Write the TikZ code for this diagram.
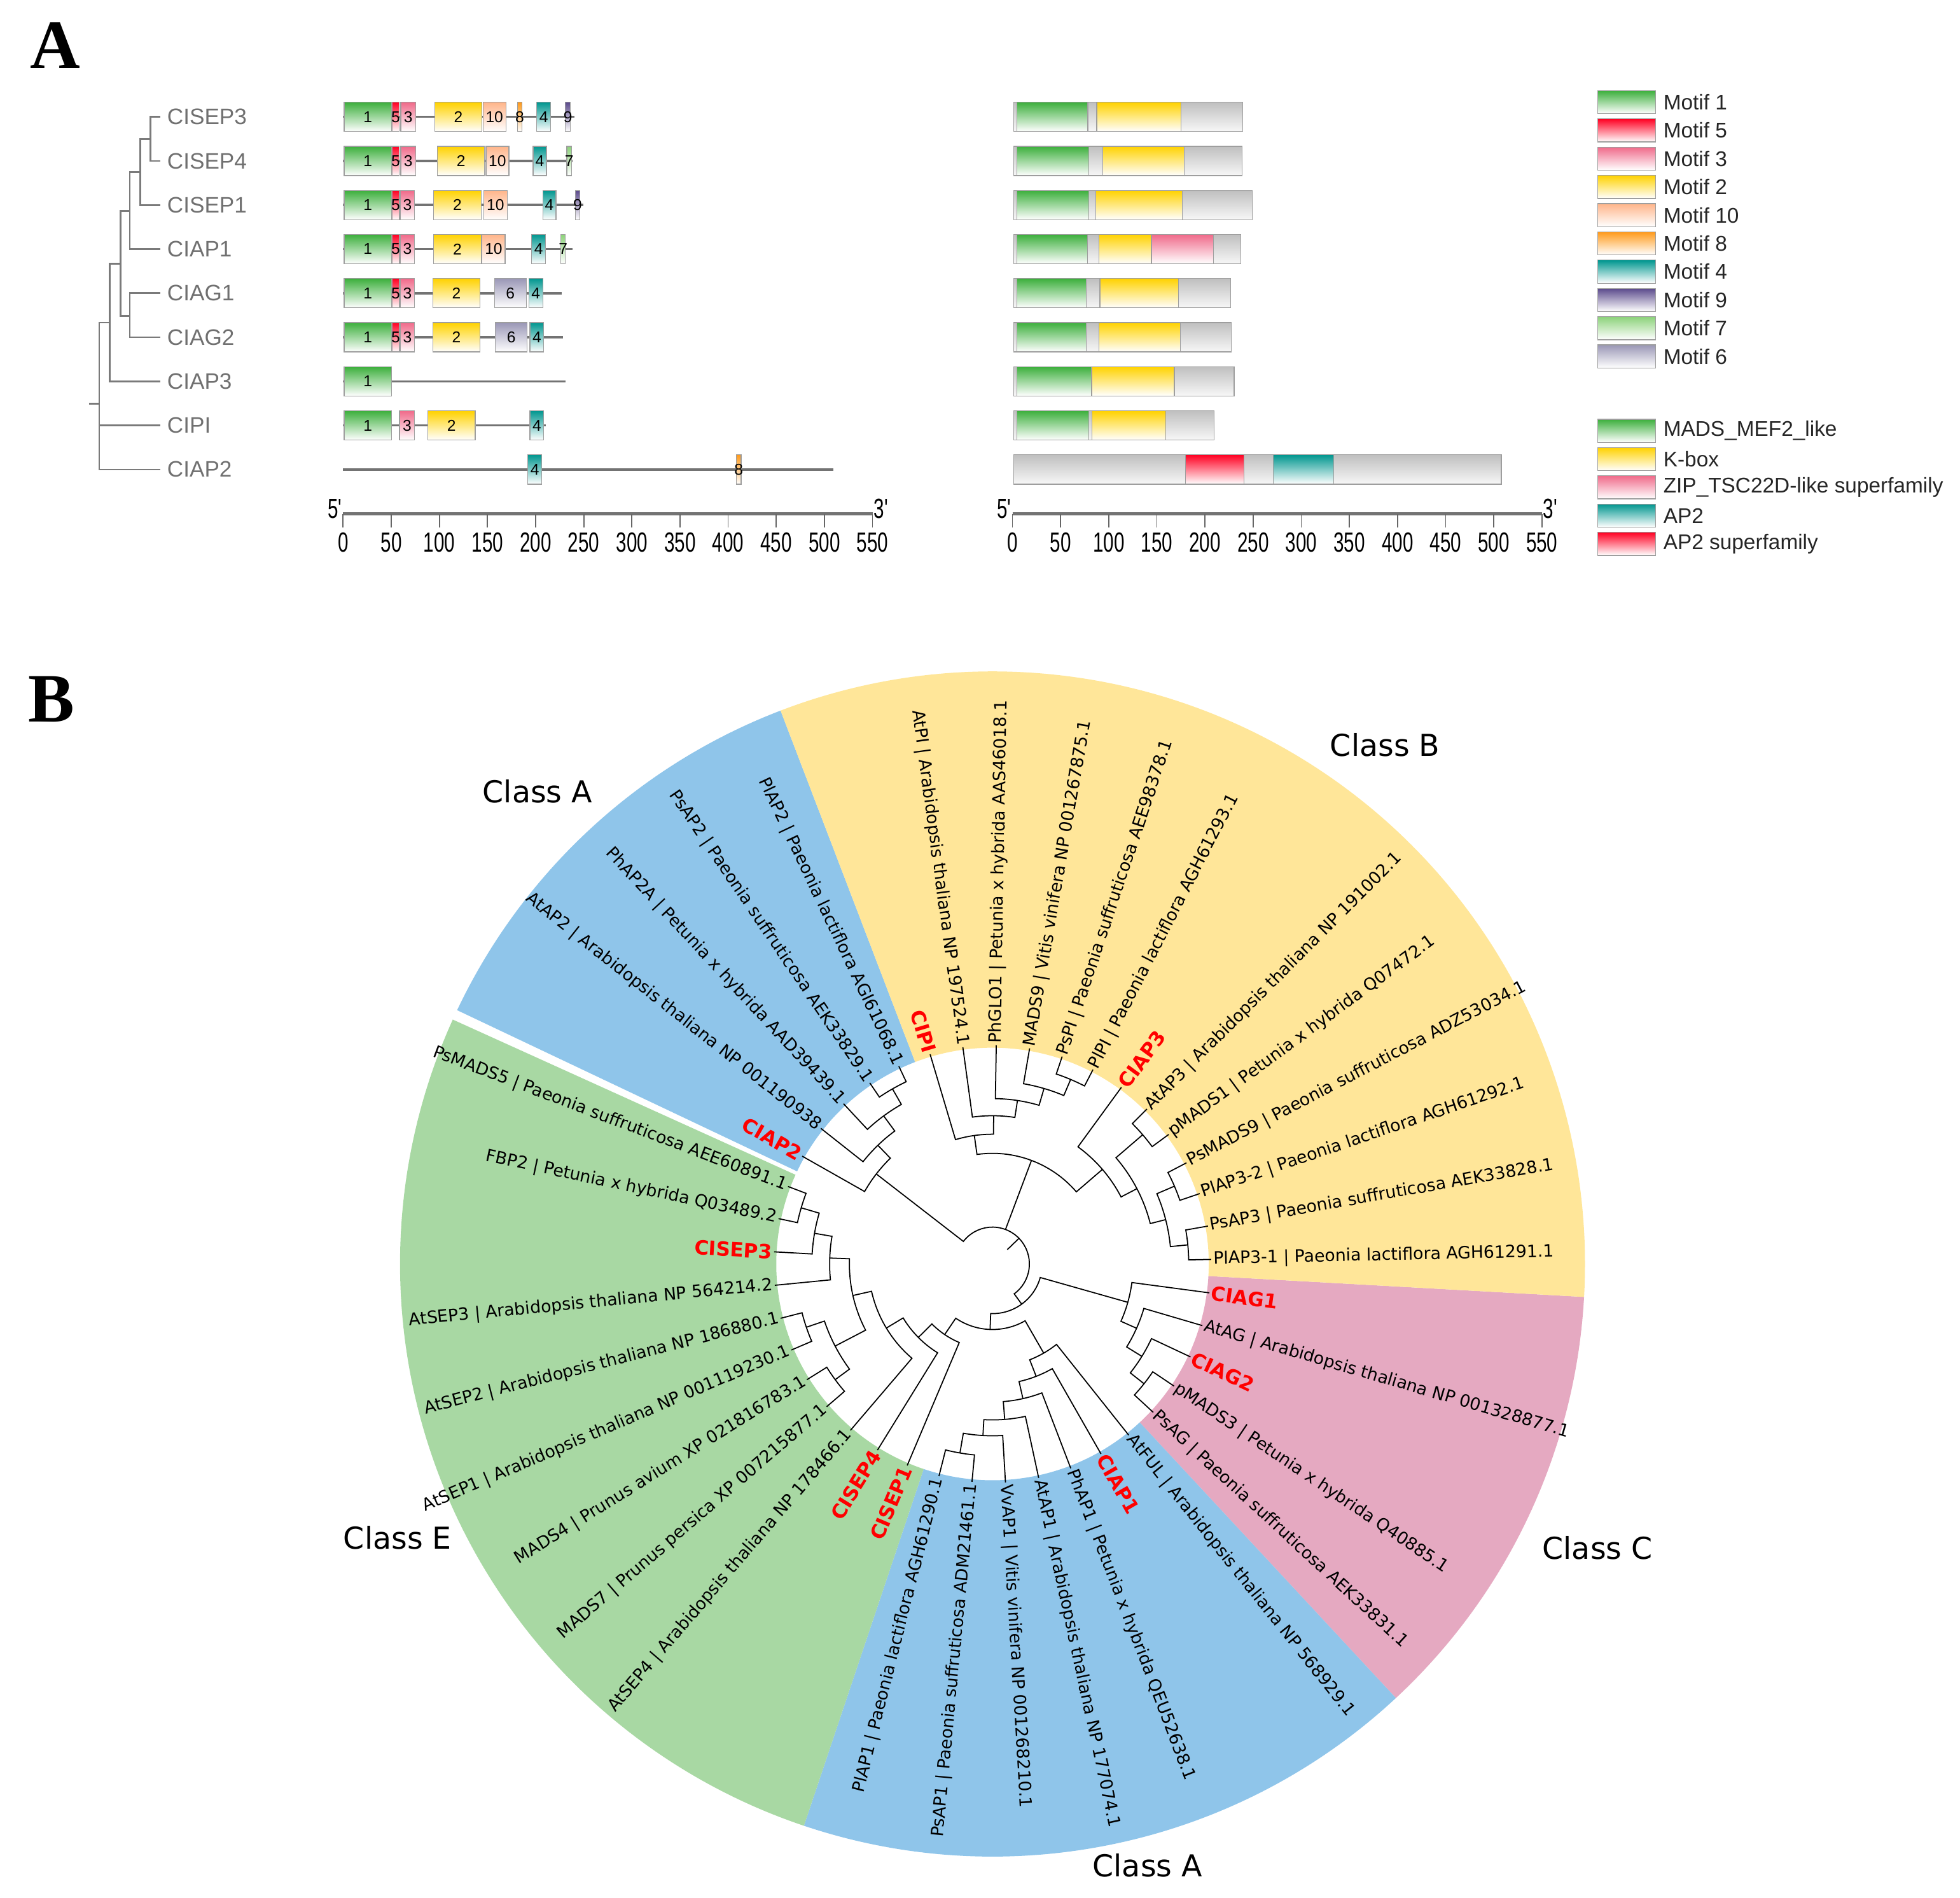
\documentclass[tikz,border=0pt]{standalone}
\usepackage{fontspec}
\setmainfont{Liberation Sans}
\newfontfamily\dvs{DejaVu Sans}
\newfontfamily\lser{Liberation Serif}
\newfontfamily\narrow[FakeStretch=0.68]{Liberation Sans}
\usetikzlibrary{positioning}

\definecolor{mOne}{HTML}{3CAF3C}
\definecolor{mFive}{HTML}{FF0022}
\definecolor{mThree}{HTML}{F06A8A}
\definecolor{mTwo}{HTML}{FFD200}
\definecolor{mTen}{HTML}{FFB58A}
\definecolor{mEight}{HTML}{FF9A1A}
\definecolor{mFour}{HTML}{00968F}
\definecolor{mNine}{HTML}{5B4A8C}
\definecolor{mSeven}{HTML}{8CD27A}
\definecolor{mSix}{HTML}{9A97B6}
\definecolor{clsA}{HTML}{8FC5EA}
\definecolor{clsB}{HTML}{FFE699}
\definecolor{clsC}{HTML}{E5A9C1}
\definecolor{clsE}{HTML}{A8D8A3}

% annular sector of the circular tree
\newcommand{\ringsector}[3]{\fill[#1] (#2:173) arc[start angle=#2, end angle=#3, radius=173]
  -- (#3:474) arc[start angle=#3, end angle=#2, radius=474] -- cycle;}

\begin{document}
\begin{tikzpicture}[x=0.19649mm, y=0.19649mm,
    every node/.style={inner sep=0pt},
    panel/.style={font=\lser\bfseries\fontsize{31}{31}\selectfont},
    gname/.style={font=\fontsize{10}{12}\selectfont, text=black!56, anchor=west, inner sep=3pt},
    ptree/.style={draw=black!52, line width=0.75pt},
    pline/.style={draw=black!55, line width=1pt},
    box/.style={draw=black!38, line width=0.35pt},
    mot1/.style={box, top color=mOne, bottom color=white},
    mot2/.style={box, top color=mTwo, bottom color=white},
    mot3/.style={box, top color=mThree, bottom color=white},
    mot4/.style={box, top color=mFour, bottom color=white},
    mot5/.style={box, top color=mFive, bottom color=white},
    mot6/.style={box, top color=mSix, bottom color=white},
    mot7/.style={box, top color=mSeven, bottom color=white},
    mot8/.style={box, top color=mEight, bottom color=white},
    mot9/.style={box, top color=mNine, bottom color=white},
    mot10/.style={box, top color=mTen, bottom color=white},
    dom/.style={box, top color=black!25, bottom color=black!3},
    numtxt/.style={font=\fontsize{7}{7}\selectfont},
    axnum/.style={font=\narrow\fontsize{12.4}{12.4}\selectfont},
    swatch/.style={minimum width=9.1mm, minimum height=3.63mm},
    leg/.style={font=\fontsize{9.5}{11}\selectfont, text=black!85},
    btree/.style={draw=black, line width=0.5pt},
    lbl0/.style={font=\dvs\fontsize{7.6}{8}\selectfont, inner sep=0.5pt},
    lbl1/.style={font=\dvs\bfseries\fontsize{8.8}{9}\selectfont, text=red, inner sep=0.5pt},
    anc0/.style={anchor=west}, anc1/.style={anchor=east},
    clab/.style={font=\dvs\fontsize{13.5}{15}\selectfont}]

\useasboundingbox (0,0) rectangle (1568,-1518);

%%% Panel A
\node[panel] (pA) at (44,-36.5) {A};

% gene tree
\foreach \gn [count=\row from 0] in {CISEP3,CISEP4,CISEP1,CIAP1,CIAG1,CIAG2,CIAP3,CIPI,CIAP2}
  \node[gname] (g\row) at (128.1,{-93.5-35.25*\row}) {\gn};

\coordinate (n6) at (120.4,-111.1);
\coordinate (n5) at (112.3,-137.7);
\coordinate (n3) at (103.8,-168.65);
\coordinate (n4) at (103.8,-252.75);
\coordinate (n2) at (96.4,-211);
\coordinate (n1) at (87.9,-258.1);
\coordinate (n0) at (79.4,-323);
\coordinate (rt) at (71,-323);

\draw[ptree] (n6) |- (g0.west) (n6) |- (g1.west)
  (n5) |- (n6) (n5) |- (g2.west)
  (n3) |- (n5) (n3) |- (g3.west)
  (n4) |- (g4.west) (n4) |- (g5.west)
  (n2) |- (n3) (n2) |- (n4)
  (n1) |- (n2) (n1) |- (g6.west)
  (n0) |- (n1) (n0) |- (g7.west) (n0) |- (g8.west)
  (rt) -- (n0);

% motif structures
\begin{scope}[shift={(274.5,-93.5)}, xscale=0.77, yscale=35.25]
  \foreach \row/\len in {0/240.6,1/238.4,2/249.4,3/238.4,4/227.3,5/228.4,6/231.1,7/210.3,8/509.3}
    \draw[pline] (0,-\row) -- (\len,-\row);
  \foreach \row/\xa/\xb/\mt in {
      0/1.1/50.4/1, 0/51.1/58.2/5, 0/59.9/75.4/3, 0/95.1/144.4/2, 0/145.3/169.1/10, 0/181.1/186/8, 0/201.2/215.6/4, 0/231/236.1/9,
      1/1.1/50.4/1, 1/51.1/58.2/5, 1/59.9/75.4/3, 1/98/147/2, 1/148.4/172.2/10, 1/197.4/211.2/4, 1/232.4/237.2/7,
      2/1.1/50.4/1, 2/51.1/58.2/5, 2/59.3/74.3/3, 2/94/143.3/2, 2/146.1/170.5/10, 2/207.4/221.1/4, 2/241.2/246.1/9,
      3/1.1/50.4/1, 3/51.1/58.2/5, 3/59.3/74.3/3, 3/94/143.3/2, 3/144.4/168.3/10, 3/195.9/210.3/4, 3/226.2/231/7,
      4/1.1/50.4/1, 4/51.1/58.2/5, 4/59.3/74.3/3, 4/93.1/142.2/2, 4/157.2/190.4/6, 4/193/207.4/4,
      5/1.1/50.4/1, 5/51.1/58.2/5, 5/59.3/74.3/3, 5/93.1/142.2/2, 5/158.1/191.3/6, 5/194.1/208.5/4,
      6/1.1/50.4/1,
      7/1.1/50.4/1, 7/58.6/74.3/3, 7/88/137.3/2, 7/194.1/208.5/4,
      8/191.9/206.3/4, 8/408.5/413.5/8}{
    \path[mot\mt] (\xa,-\row-0.333) rectangle (\xb,-\row+0.333);
    \node[numtxt] at ({(\xa+\xb)/2},-\row) {\mt};
  }
\end{scope}

% conserved domains
\begin{scope}[shift={(810,-93.5)}, xscale=0.77, yscale=35.25]
  \foreach \row/\len in {0/239.1,1/238.4,2/249,3/237.3,4/226.5,5/227.2,6/230.3,7/209.4,8/507.8}
    \path[dom] (1,-\row-0.333) rectangle (\len,-\row+0.333);
  \foreach \row/\xa/\xb/\mt in {
      0/4.4/78.2/1, 0/87.5/175.2/2,
      1/4.4/79.3/1, 1/93.6/178.4/2,
      2/4.4/79.3/1, 2/86.6/176.2/2,
      3/4.4/77.8/1, 3/89.7/144.3/2, 3/144.8/208.7/3,
      4/4.4/76.8/1, 4/90.8/172.5/2,
      5/4.4/76.8/1, 5/89.7/174.5/2,
      6/4.4/82.2/1, 6/82.6/168.2/2,
      7/4.4/79.3/1, 7/82.6/159.4/2,
      8/179.6/240.3/5, 8/271/333.8/4}
    \path[mot\mt] (\xa,-\row-0.333) rectangle (\xb,-\row+0.333);
\end{scope}

% scale bars
\foreach \ax in {274.5,810}{
  \begin{scope}[shift={(\ax,0)}, xscale=0.77]
    \draw[draw=black!55, line width=1.6pt] (0,-411) -- (550,-411);
    \foreach \tk in {0,50,...,550}{
      \draw[black!60, line width=0.5pt] (\tk,-411) -- (\tk,-422);
      \node[axnum] at (\tk,-434) {\tk};
    }
    \node[axnum, anchor=east] at (-1,-407) {5'};
    \node[axnum, anchor=west] at (551,-407) {3'};
  \end{scope}
}

% legends
\foreach \st/\tx [count=\row from 0] in {mot1/Motif 1, mot5/Motif 5, mot3/Motif 3, mot2/Motif 2, mot10/Motif 10,
    mot8/Motif 8, mot4/Motif 4, mot9/Motif 9, mot7/Motif 7, mot6/Motif 6}{
  \node[\st, swatch] (msw\row) at (1301.5,{-81.7-22.6*\row}) {};
  \node[leg, right=1.06mm of msw\row] {\tx};
}
\foreach \st/\tx [count=\row from 0] in {mot1/MADS\_MEF2\_like, mot2/K-box,
    mot3/ZIP\_TSC22D-like superfamily, mot4/AP2, mot5/AP2 superfamily}{
  \node[\st, swatch] (dsw\row) at (1301.5,{-344.6-22.6*\row}) {};
  \node[leg, right=1.06mm of dsw\row] {\tx};
}

%%% Panel B
\node[panel] (pB) at (41,-559.5) {B};

\begin{scope}[shift={(794,-1011)}]
  % class sectors
  \ringsector{clsC}{-3.19}{-47.09}
  \ringsector{clsA}{-47.09}{-108.56}
  \ringsector{clsE}{-108.56}{-204.36}
  \ringsector{clsA}{-205.36}{-249.04}
  \ringsector{clsB}{-249.04}{-363.19}

  % tree: radius / first child angle / radius / second child angle / radius
  \foreach \cr/\ca/\cra/\cb/\crb in {
      154.5/-33.92/175/-42.70/175, 140.5/-25.14/175/-38.31/154.5,
      126.2/-16.36/175/-31.725/140.5, 112.5/-7.58/175/-24.04/126.2,
      153.4/-95.39/175/-104.17/175, 137.4/-86.60/175/-99.78/153.4,
      124.7/-77.82/175/-93.19/137.4, 110.4/-69.04/175/-85.51/124.7,
      96.4/-60.26/175/-77.27/110.4, 82.2/-51.48/175/-68.77/96.4,
      159.5/-191.97/175/-200.75/175, 144.5/-196.36/159.5/-183.19/175,
      130.3/-189.78/144.5/-174.41/175, 157.3/-156.85/175/-165.63/175,
      156.2/-139.29/175/-148.07/175, 142/-161.24/157.3/-143.68/156.2,
      114.5/-182.09/130.3/-152.46/142, 99.2/-167.28/114.5/-130.51/175,
      83.5/-148.89/99.2/-121.73/175, 68.2/-135.31/83.5/-112.95/175,
      52.4/-124.13/68.2/-60.12/82.2, 39.7/-92.13/52.4/-15.81/112.5,
      161.3/-235.87/175/-244.65/175, 147/-227.09/175/-240.26/161.3,
      132/-218.31/175/-233.68/147, 117.6/-209.53/175/-226.0/132,
      160.3/-288.56/175/-297.34/175, 146.3/-279.77/175/-292.95/160.3,
      132.3/-270.99/175/-286.36/146.3, 118.6/-262.21/175/-278.68/132.3,
      103.8/-253.43/175/-270.44/118.6,
      158.5/-314.90/175/-323.68/175, 158.3/-332.46/175/-341.24/175,
      157/-350.02/175/-358.80/175, 143/-336.85/158.3/-354.41/157,
      130.3/-319.29/158.5/-345.63/143, 116/-306.12/175/-332.46/130.3,
      88.5/-261.94/103.8/-319.29/116,
      29.5/-53.97/39.7/142.24/117.6}
    \draw[btree] (\ca:\cra) -- (\ca:\cr) arc[start angle=\ca, end angle=\cb, radius=\cr] -- (\cb:\crb);
  \draw[btree] (69.38:29.5) -- (69.38:88.5);
  \draw[btree] (44.14:29.5) -- (44.14:16.5);

  % leaf labels, clockwise from CIAG1
  \foreach \gn/\hl [count=\lf from 0] in {
      CIAG1/1,
      AtAG | Arabidopsis thaliana NP 001328877.1/0,
      CIAG2/1,
      pMADS3 | Petunia x hybrida Q40885.1/0,
      PsAG | Paeonia suffruticosa AEK33831.1/0,
      AtFUL | Arabidopsis thaliana NP 568929.1/0,
      CIAP1/1,
      PhAP1 | Petunia x hybrida QEU52638.1/0,
      AtAP1 | Arabidopsis thaliana NP 177074.1/0,
      VvAP1 | Vitis vinifera NP 001268210.1/0,
      PsAP1 | Paeonia suffruticosa ADM21461.1/0,
      PlAP1 | Paeonia lactiflora AGH61290.1/0,
      CISEP1/1,
      CISEP4/1,
      AtSEP4 | Arabidopsis thaliana NP 178466.1/0,
      MADS7 | Prunus persica XP 007215877.1/0,
      MADS4 | Prunus avium XP 021816783.1/0,
      AtSEP1 | Arabidopsis thaliana NP 001119230.1/0,
      AtSEP2 | Arabidopsis thaliana NP 186880.1/0,
      AtSEP3 | Arabidopsis thaliana NP 564214.2/0,
      CISEP3/1,
      FBP2 | Petunia x hybrida Q03489.2/0,
      PsMADS5 | Paeonia suffruticosa AEE60891.1/0,
      CIAP2/1,
      AtAP2 | Arabidopsis thaliana NP 001190938/0,
      PhAP2A | Petunia x hybrida AAD39439.1/0,
      PsAP2 | Paeonia suffruticosa AEK33829.1/0,
      PlAP2 | Paeonia lactiflora AGI61068.1/0,
      CIPI/1,
      AtPI | Arabidopsis thaliana NP 197524.1/0,
      PhGLO1 | Petunia x hybrida AAS46018.1/0,
      MADS9 | Vitis vinifera NP 001267875.1/0,
      PsPI | Paeonia suffruticosa AEE98378.1/0,
      PlPI | Paeonia lactiflora AGH61293.1/0,
      CIAP3/1,
      AtAP3 | Arabidopsis thaliana NP 191002.1/0,
      pMADS1 | Petunia x hybrida Q07472.1/0,
      PsMADS9 | Paeonia suffruticosa ADZ53034.1/0,
      PlAP3-2 | Paeonia lactiflora AGH61292.1/0,
      PsAP3 | Paeonia suffruticosa AEK33828.1/0,
      PlAP3-1 | Paeonia lactiflora AGH61291.1/0}{
    \pgfmathsetmacro{\ang}{-7.58-8.7805*\lf}
    \pgfmathtruncatemacro{\flip}{cos(\ang)<0}
    \pgfmathsetmacro{\rot}{\ang+180*\flip}
    \node[lbl\hl, anc\flip, rotate=\rot] (leaf\lf) at (\ang:175.5) {\gn};
  }
\end{scope}

% class names
\node[clab] (cA1) at (430,-633) {Class A};
\node[clab] (cB) at (1108,-596) {Class B};
\node[clab] (cE) at (318,-1230) {Class E};
\node[clab] (cC) at (1278,-1238) {Class C};
\node[clab] (cA2) at (918,-1492) {Class A};

\end{tikzpicture}
\end{document}
